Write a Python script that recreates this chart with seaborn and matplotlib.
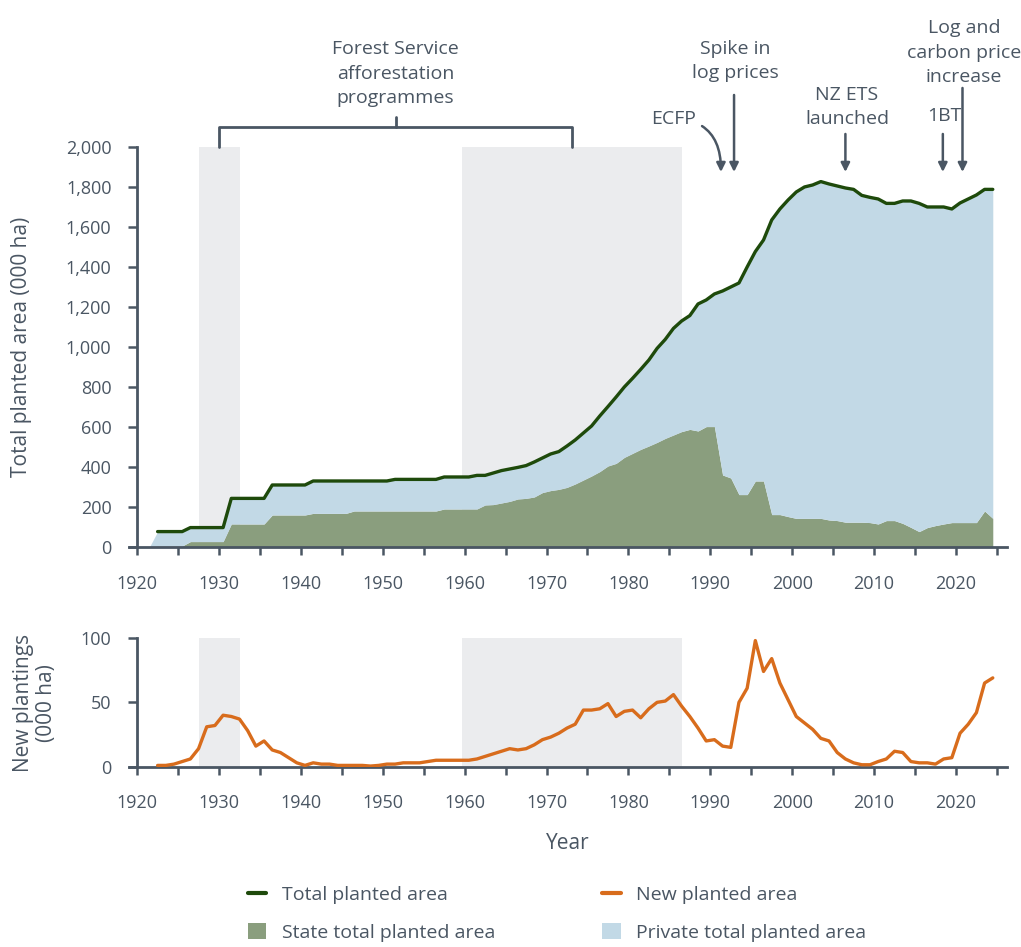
import numpy as np
import pandas as pd
import seaborn as sns
import matplotlib.pyplot as plt
from matplotlib.lines import Line2D
from matplotlib.patches import Patch
from matplotlib.ticker import MultipleLocator, FuncFormatter

years = list(range(1921, 2025))

# total planted area (000 ha)
total = [0, 77, 77, 77, 77, 97, 97, 97, 97, 97,
         243, 243, 243, 243, 243, 310, 310, 310, 310, 310,
         330, 330, 330, 330, 330, 330, 330, 330, 330, 330,
         338, 338, 338, 338, 338, 338, 350, 350, 350, 350,
         358, 358, 370, 382, 390, 398, 407, 425, 445, 465,
         477, 505, 535, 570, 605, 655, 702, 750, 800, 843,
         888, 935, 993, 1038, 1093, 1130, 1157, 1215, 1235, 1265,
         1280, 1300, 1320, 1400, 1477, 1535, 1635, 1690, 1735, 1775,
         1800, 1810, 1827, 1815, 1805, 1795, 1788, 1758, 1748, 1740,
         1718, 1718, 1730, 1730, 1718, 1700, 1700, 1700, 1690, 1720,
         1740, 1760, 1788, 1788]

# state-owned planted area (000 ha)
state = [0, 5, 5, 5, 5, 27, 27, 27, 27, 27,
         115, 115, 115, 115, 115, 160, 160, 160, 160, 160,
         168, 168, 168, 168, 168, 180, 180, 180, 180, 180,
         180, 180, 180, 180, 180, 180, 190, 190, 190, 190,
         190, 210, 212, 220, 228, 240, 243, 250, 272, 282,
         288, 298, 315, 335, 355, 377, 405, 418, 448, 468,
         488, 505, 523, 543, 560, 577, 588, 580, 602, 602,
         360, 345, 262, 262, 330, 330, 162, 162, 152, 143,
         143, 143, 143, 135, 132, 124, 124, 124, 122, 115,
         132, 132, 118, 98, 77, 97, 107, 115, 122, 122,
         122, 122, 180, 143]

# new plantings (000 ha)
new_planted = [np.nan, 1, 1, 2, 4, 6, 14, 31, 32, 40,
               39, 37, 28, 16, 20, 13, 11, 7, 3, 1,
               3, 2, 2, 1, 1, 1, 1, 0.5, 1, 2,
               2, 3, 3, 3, 4, 5, 5, 5, 5, 5,
               6, 8, 10, 12, 14, 13, 14, 17, 21, 23,
               26, 30, 33, 44, 44, 45, 49, 39, 43, 44,
               38, 45, 50, 51, 56, 47, 39, 30, 20, 21,
               16, 15, 50, 61, 98, 74, 84, 65, 52, 39,
               34, 29, 22, 20, 11, 6, 3, 1.5, 1.5, 4,
               6, 12, 11, 4, 3, 3, 2, 6, 7, 26,
               33, 42, 65, 69]

# Forest Service afforestation programme periods
programmes = [(1927.5, 1932.6), (1959.7, 1986.5)]

# event markers: (label, arrow year)
events = [("Spike in\nlog prices", 1992.9),
          ("NZ ETS\nlaunched", 2006.5),
          ("1BT", 2018.4),
          ("Log and\ncarbon price\nincrease", 2020.8)]

df = pd.DataFrame({"year": years, "total": total, "state": state, "new": new_planted})
df["private"] = df["total"] - df["state"]
df["x"] = df["year"] + 0.5  # mid-year

ink = "#4a5663"
green = "#1e4a0b"
orange = "#d86c1c"
state_c = "#8a9e7e"
private_c = "#c2d9e6"
band_c = "#ebecee"

sns.set_theme(style="ticks")
plt.rcParams["font.family"] = ["Open Sans", "DejaVu Sans"]
plt.rcParams["text.color"] = ink

fig = plt.figure(figsize=(10.21, 9.47), dpi=100)
ax1 = fig.add_axes([0.1263, 0.4224, 0.8597, 0.4224])
ax2 = fig.add_axes([0.1263, 0.1904, 0.8597, 0.1359])

for a0, a1 in programmes:
    ax1.axvspan(a0, a1, ymin=0, ymax=1, color=band_c, lw=0, zorder=0)
    ax2.axvspan(a0, a1, ymin=0, ymax=1, color=band_c, lw=0, zorder=0)

ax1.stackplot(df["x"], df["state"], df["private"], colors=[state_c, private_c], lw=0, zorder=1)
sns.lineplot(data=df.iloc[1:], x="x", y="total", ax=ax1, color=green, lw=2.4,
             estimator=None, zorder=3)
sns.lineplot(data=df.iloc[1:], x="x", y="new", ax=ax2, color=orange, lw=2.4,
             estimator=None, zorder=3)

for ax, top in [(ax1, 2000), (ax2, 100)]:
    ax.set_xlim(1919, 2026.2)
    ax.set_ylim(0, top)
    ax.set_facecolor("white")
    ax.spines["top"].set_visible(False)
    ax.spines["right"].set_visible(False)
    ax.spines["left"].set_position(("data", 1920))
    for s in ["left", "bottom"]:
        ax.spines[s].set_color(ink)
        ax.spines[s].set_linewidth(2)
    ax.xaxis.set_major_locator(MultipleLocator(10))
    ax.xaxis.set_minor_locator(MultipleLocator(5))
    ax.tick_params(axis="x", which="both", direction="out", length=6, width=1.8,
                   color=ink, labelcolor=ink, labelsize=13, pad=14)
    ax.tick_params(axis="y", direction="out", length=6.5, width=1.8,
                   color=ink, labelcolor=ink, labelsize=13, pad=12)
    ax.set_xlabel("")
    ax.set_ylabel("")
    ax.xaxis.set_major_formatter(FuncFormatter(lambda v, p: f"{int(v)}"))

ax1.yaxis.set_major_locator(MultipleLocator(200))
ax1.yaxis.set_major_formatter(FuncFormatter(lambda v, p: f"{int(v):,}"))
ax2.yaxis.set_major_locator(MultipleLocator(50))

fig.text(22 / 1021, 1 - 347 / 947, "Total planted area (000 ha)", rotation=90,
         ha="center", va="center", fontsize=15, color=ink)
fig.text(35 / 1021, 1 - 703 / 947, "New plantings\n(000 ha)", rotation=90,
         ha="center", va="center", fontsize=15, color=ink, multialignment="center",
         linespacing=1.15)
fig.text(568 / 1021, 1 - 843 / 947, "Year", ha="center", va="center",
         fontsize=15, color=ink)

# bracket over the programme periods
c0 = sum(programmes[0]) / 2
c1 = sum(programmes[1]) / 2
mid = (c0 + c1) / 2
ax1.plot([c0, c0, c1, c1], [2000, 2100, 2100, 2000], color=ink, lw=2, clip_on=False)
ax1.plot([mid, mid], [2100, 2150], color=ink, lw=2, clip_on=False)
ax1.text(mid, 2200, "Forest Service\nafforestation\nprogrammes", ha="center", va="bottom",
         fontsize=14, color=ink, linespacing=1.45)

arrow_kw = dict(arrowstyle="-|>", color=ink, lw=1.8, mutation_scale=13, shrinkA=0, shrinkB=0)
starts = {"Spike in\nlog prices": 2260, "NZ ETS\nlaunched": 2065,
          "1BT": 2065, "Log and\ncarbon price\nincrease": 2295}
text_y = {"Spike in\nlog prices": 2325, "NZ ETS\nlaunched": 2095,
          "1BT": 2112, "Log and\ncarbon price\nincrease": 2305}
for label, yr in events:
    ax1.annotate("", xy=(yr, 1875), xytext=(yr, starts[label]), arrowprops=arrow_kw,
                 annotation_clip=False)
    ax1.text(yr + 0.2, text_y[label], label, ha="center", va="bottom", fontsize=14,
             color=ink, linespacing=1.45)

# ECFP curved arrow
ax1.annotate("ECFP", xy=(1991.3, 1875), xytext=(1988.3, 2140), ha="right", va="center",
             fontsize=14, color=ink, annotation_clip=False,
             arrowprops=dict(arrowstyle="-|>", color=ink, lw=1.8, mutation_scale=13,
                             shrinkA=2, shrinkB=0,
                             connectionstyle="angle3,angleA=0,angleB=90"))

handles = [Line2D([], [], color=green, lw=3),
           Patch(facecolor=state_c, edgecolor="none"),
           Line2D([], [], color=orange, lw=3),
           Patch(facecolor=private_c, edgecolor="none")]
labels = ["Total planted area", "State total planted area",
          "New planted area", "Private total planted area"]
fig.legend(handles, labels, ncol=2, loc="upper left", bbox_to_anchor=(248 / 1021, 1 - 885 / 947),
           frameon=False, fontsize=14, handlelength=0.95, handleheight=0.95,
           handletextpad=0.8, columnspacing=5.5, labelspacing=0.95, borderpad=0,
           borderaxespad=0, labelcolor=ink)

fig.savefig("out.png", dpi=100, facecolor="white")
